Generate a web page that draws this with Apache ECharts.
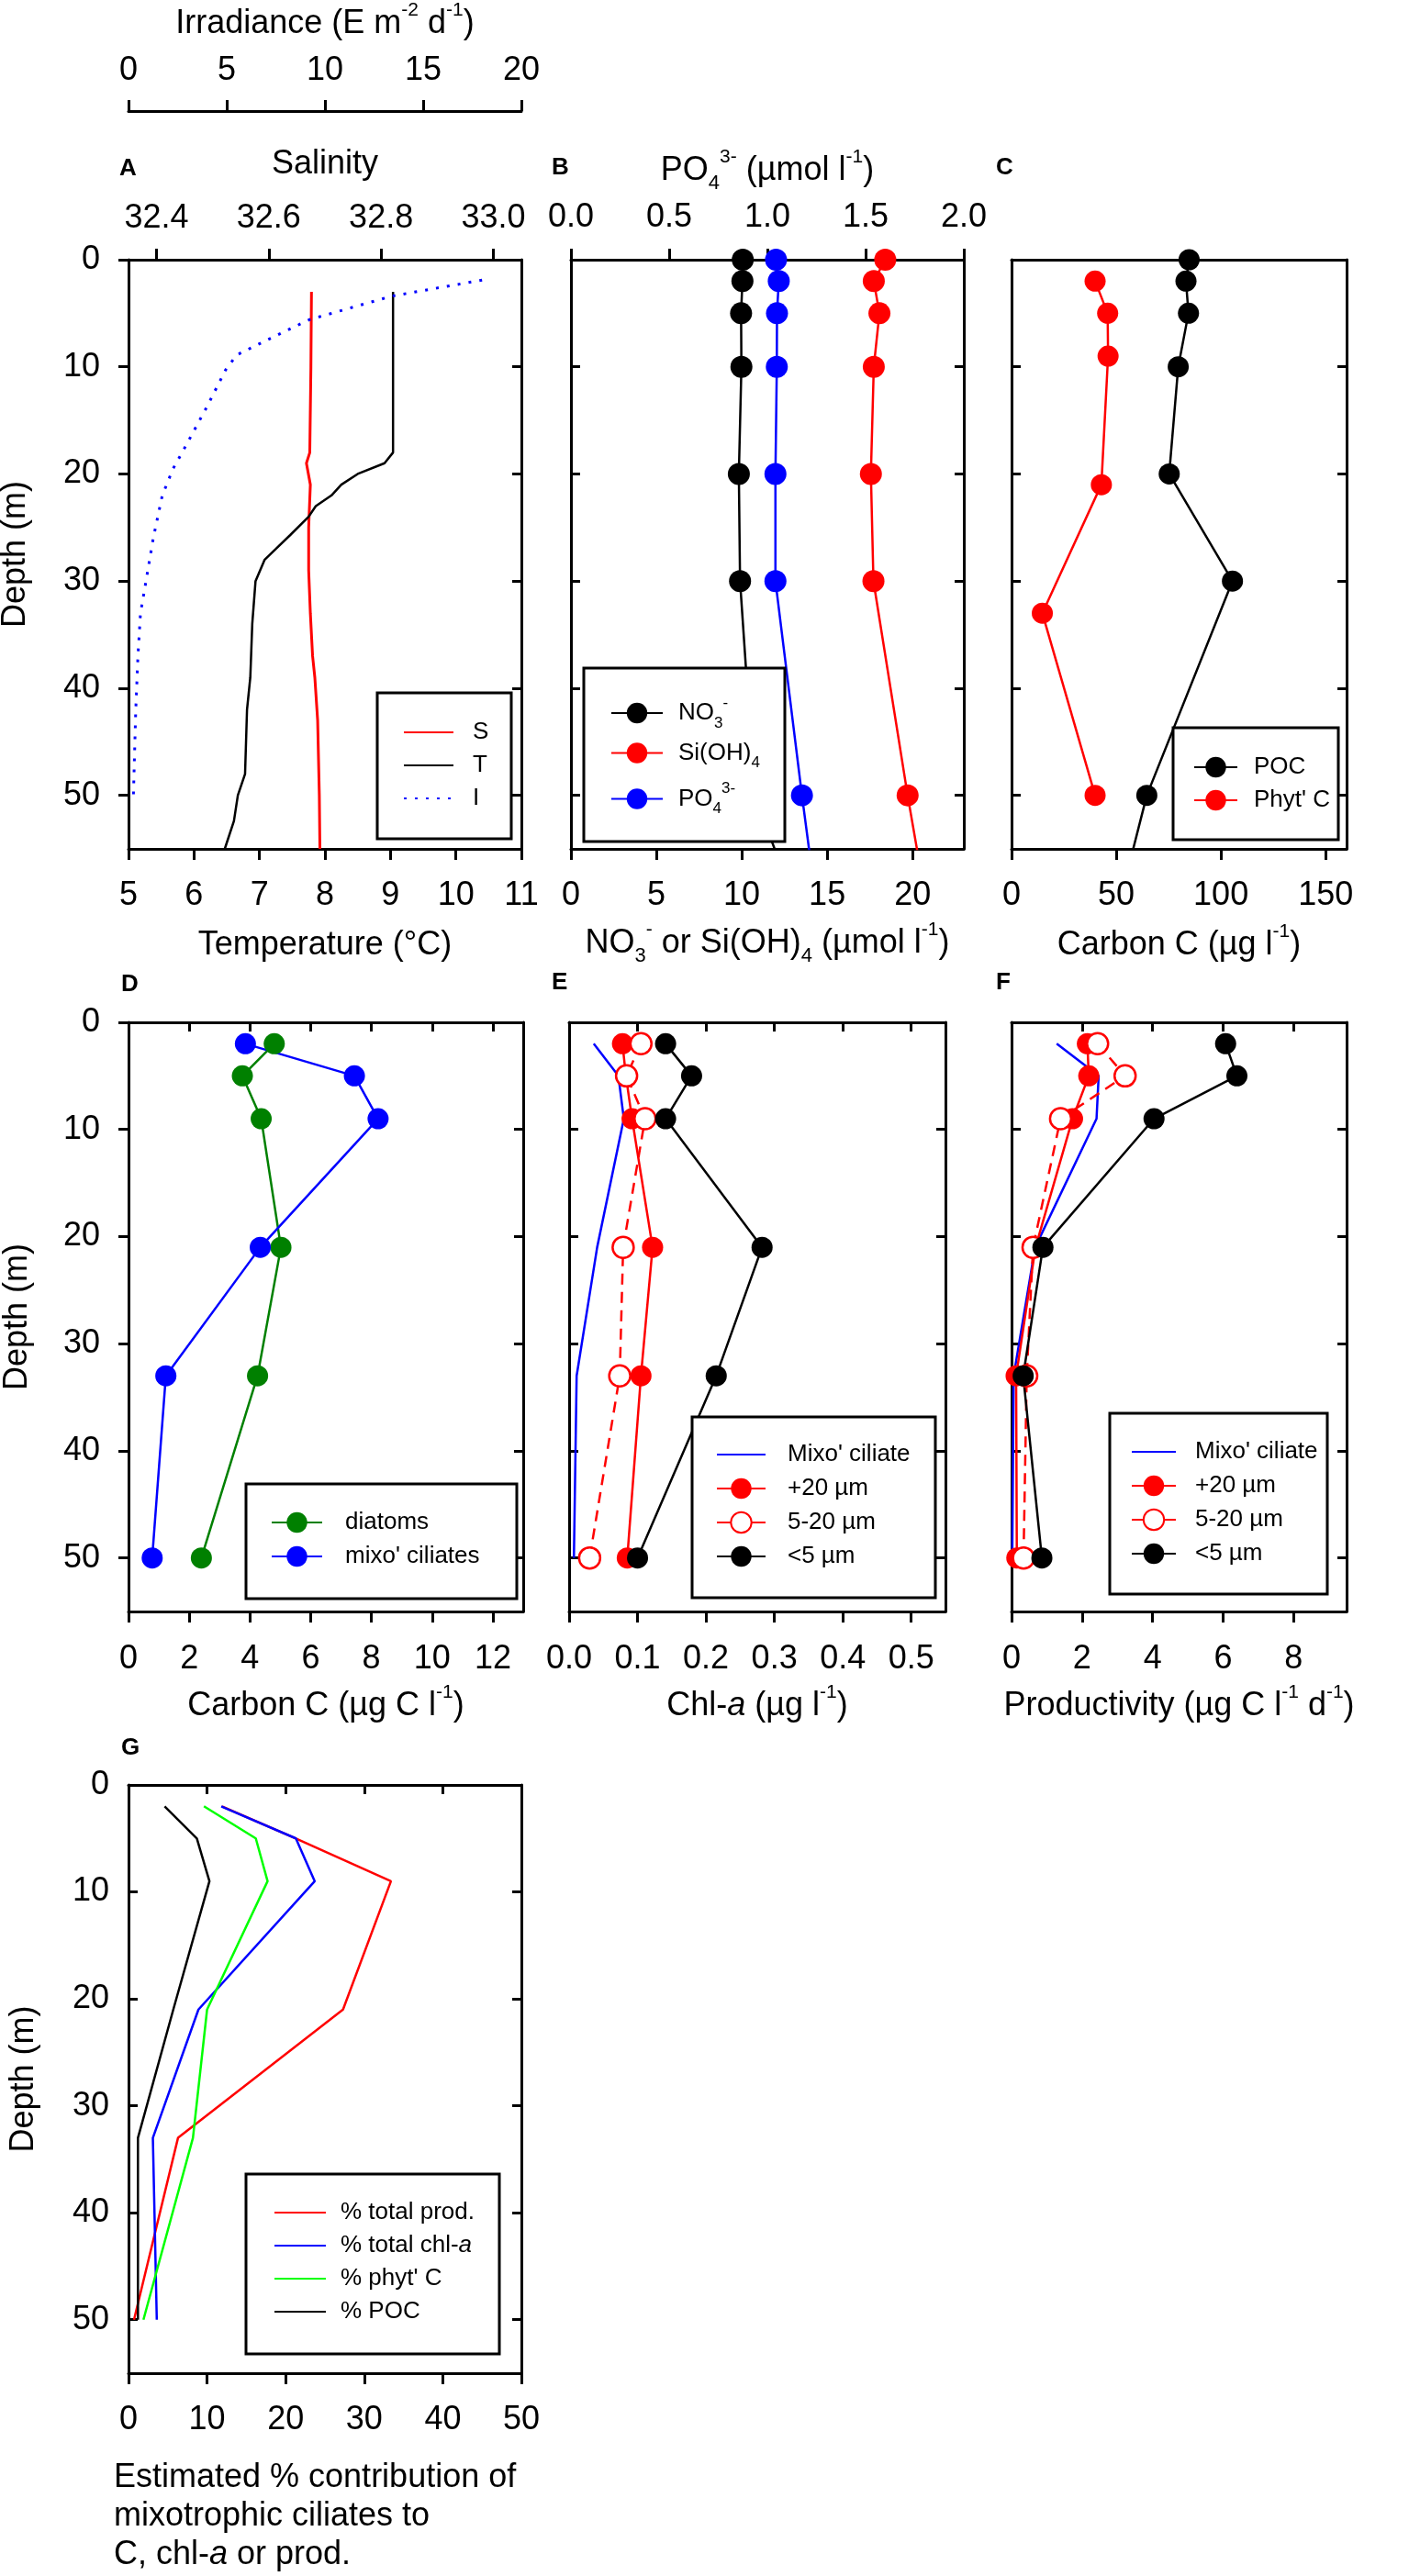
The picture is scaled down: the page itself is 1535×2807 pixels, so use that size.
<!DOCTYPE html>
<html>
<head>
<meta charset="utf-8">
<script src="https://cdn.jsdelivr.net/npm/echarts@6/dist/echarts.min.js"></script>
<style>
html, body { margin: 0; background: #fff; }
#main { width: 1535px; height: 2807px; }
</style>
</head>
<body>
<div id="main"></div>
<script>
// A: CTD cast (depth in m)
const tDepth = [3, 18, 19, 20, 21, 22, 23, 24, 25.7, 27, 28, 30, 34, 39, 42, 48, 50, 52.4, 55];
const tempT = [9.04, 9.04, 8.91, 8.5, 8.25, 8.1, 7.86, 7.75, 7.47, 7.25, 7.08, 6.94, 6.89, 6.86, 6.81, 6.78, 6.67, 6.61, 6.47];
const sDepth = [3, 10, 18, 19, 21, 25, 29, 33, 37, 39, 43, 50, 55];
const salS = [32.676, 32.675, 32.673, 32.667, 32.674, 32.671, 32.671, 32.674, 32.678, 32.682, 32.687, 32.69, 32.691];
const iDepth = [1.9, 3.4, 5.6, 7.1, 8.9, 10.3, 13.7, 15.5, 18, 19.5, 22, 26, 30, 33, 37, 42, 50];
const irrI = [18.0, 13.4, 9.2, 7.5, 5.5, 4.94, 4.0, 3.47, 2.73, 2.27, 1.72, 1.26, 0.89, 0.61, 0.48, 0.37, 0.25];

// B: nutrients
const nutDepth = [0, 2, 5, 10, 20, 30, 50, 60];
const no3 = [10.06, 10.04, 9.96, 9.98, 9.83, 9.9, 10.75, 13.1];
const siOH4 = [18.4, 17.73, 18.06, 17.73, 17.56, 17.71, 19.71, 20.8];
const po4 = [1.044, 1.058, 1.049, 1.048, 1.041, 1.041, 1.176, 1.248];

// C: carbon
const pocDepth = [0, 2, 5, 10, 20, 30, 50, 60];
const poc = [84.8, 83.3, 84.5, 79.6, 75.3, 105.5, 64.6, 51.6];
const sampDepth = [2, 5, 9, 21, 33, 50];
const phytC = [39.9, 45.9, 46.1, 42.9, 14.7, 39.9];

// D: diatoms vs mixotrophic ciliates
const diatoms = [4.8, 3.75, 4.37, 5.02, 4.25, 2.4];
const mixoC = [3.85, 7.44, 8.22, 4.34, 1.23, 0.78];

// E: chl-a
const chlMixo = [0.036, 0.072, 0.08, 0.041, 0.011, 0.007];
const chlPlus20 = [0.078, 0.083, 0.092, 0.122, 0.105, 0.085];
const chl5to20 = [0.105, 0.084, 0.111, 0.079, 0.074, 0.03];
const chlLt5 = [0.141, 0.179, 0.141, 0.282, 0.215, 0.1];

// F: productivity
const prodMixo = [1.28, 2.47, 2.41, 0.67, 0.06, 0.02];
const prodPlus20 = [2.15, 2.19, 1.73, 0.68, 0.13, 0.15];
const prod5to20 = [2.44, 3.22, 1.39, 0.61, 0.43, 0.34];
const prodLt5 = [6.07, 6.39, 4.04, 0.89, 0.33, 0.86];

// G: % contribution of mixotrophic ciliates
const pctProd = [11.9, 21.3, 33.4, 27.3, 6.3, 0.7];
const pctChl = [11.8, 21.3, 23.7, 8.9, 3.1, 3.6];
const pctPhyt = [9.6, 16.2, 17.7, 10.0, 8.2, 1.9];
const pctPoc = [4.6, 8.7, 10.3, 5.7, 1.2, 1.2];

// tick values
const depthTicks = [0, 10, 20, 30, 40, 50];
const tempTicks = [5, 6, 7, 8, 9, 10, 11];
const salTicks = [32.4, 32.6, 32.8, 33.0];
const irrTicks = [0, 5, 10, 15, 20];
const nutTicks = [0, 5, 10, 15, 20];
const po4Ticks = [0, 0.5, 1, 1.5, 2];
const carbonTicks = [0, 50, 100, 150];
const dTicks = [0, 2, 4, 6, 8, 10, 12];
const chlTicks = [0, 0.1, 0.2, 0.3, 0.4, 0.5];
const prodTicks = [0, 2, 4, 6, 8];
const pctTicks = [0, 10, 20, 30, 40, 50];

const FONT = 'Arial, "Liberation Sans", sans-serif';
const RED = '#ff0000', BLUE = '#0000ff', BLACK = '#000000';

const RICH = {
    n: { fontSize: 36, fontFamily: FONT, color: '#000', lineHeight: 50 },
    i: { fontSize: 36, fontFamily: FONT, fontStyle: 'italic', color: '#000', lineHeight: 50 },
    sup: { fontSize: 21, fontFamily: FONT, color: '#000', lineHeight: 36, verticalAlign: 'top' },
    sub: { fontSize: 22, fontFamily: FONT, color: '#000', lineHeight: 22, verticalAlign: 'bottom' }
};
const LRICH = {
    ln: { fontSize: 26, fontFamily: FONT, color: '#000', lineHeight: 39 },
    li: { fontSize: 26, fontFamily: FONT, fontStyle: 'italic', color: '#000', lineHeight: 28 },
    lsup: { fontSize: 17, fontFamily: FONT, color: '#000', lineHeight: 25, verticalAlign: 'top' },
    lsub: { fontSize: 17, fontFamily: FONT, color: '#000', lineHeight: 17, verticalAlign: 'bottom' }
};

const grids = [
    { left: 140, top: 283, width: 428, height: 642 },   // A
    { left: 622, top: 283, width: 428, height: 642 },   // B
    { left: 1102, top: 283, width: 365, height: 642 },  // C
    { left: 140, top: 1114, width: 430, height: 642 },  // D
    { left: 620, top: 1114, width: 410, height: 642 },  // E
    { left: 1102, top: 1114, width: 365, height: 642 }, // F
    { left: 140, top: 1945, width: 428, height: 641 }   // G
].map(g => Object.assign({ outerBoundsMode: 'none', containLabel: false }, g));

function xAx(gi, pos, min, max, ticks, o) {
    o = o || {};
    return {
        type: 'value', gridIndex: gi, position: pos, min: min, max: max, offset: o.offset || 0,
        splitLine: { show: false },
        axisLine: { show: true, onZero: false, lineStyle: { color: '#000', width: 3 } },
        axisTick: {
            show: !!ticks, inside: !!o.inside, length: o.inside ? 10 : 12,
            lineStyle: { color: '#000', width: 3 }, customValues: ticks || undefined
        },
        axisLabel: {
            show: !!o.labels, customValues: ticks || undefined, margin: o.margin || 8,
            fontSize: 36, lineHeight: 36, fontFamily: FONT, color: '#000', formatter: o.fmt
        },
        name: o.name || '', nameLocation: 'middle', nameGap: o.nameGap || 0,
        nameMoveOverlap: false, nameTextStyle: { rich: RICH }
    };
}

function yAx(gi, pos, o) {
    o = o || {};
    return {
        type: 'value', gridIndex: gi, position: pos, inverse: true, min: 0, max: 55,
        splitLine: { show: false },
        axisLine: { show: true, onZero: false, lineStyle: { color: '#000', width: 3 } },
        axisTick: {
            show: true, inside: !!o.inside, length: o.inside ? 10 : 11,
            lineStyle: { color: '#000', width: 3 }, customValues: depthTicks
        },
        axisLabel: {
            show: !!o.labels, customValues: depthTicks, margin: o.margin || 8,
            fontSize: 36, lineHeight: 36, fontFamily: FONT, color: '#000'
        },
        name: o.labels ? '{n|Depth (m)}' : '', nameLocation: 'middle', nameRotate: 90,
        nameGap: o.nameGap || 0, nameMoveOverlap: false, nameTextStyle: { rich: RICH }
    };
}

const fix1 = v => v.toFixed(1);

const xAxes = [
    // 0-2 A
    xAx(0, 'bottom', 5, 11, tempTicks, { labels: true, margin: 33, name: '{n|Temperature (°C)}', nameGap: 80 }),
    xAx(0, 'top', 32.35, 33.05, salTicks, { labels: true, margin: 27, fmt: fix1, name: '{n|Salinity}', nameGap: 79 }),
    xAx(0, 'top', 0, 20, irrTicks, { labels: true, margin: 26, offset: 162,
        name: '{n|Irradiance (E m}{sup|-2}{n| d}{sup|-1}{n|)}', nameGap: 70 }),
    // 3-4 B
    xAx(1, 'bottom', 0, 23, nutTicks, { labels: true, margin: 33,
        name: '{n|NO}{sub|3}{sup|-}{n| or Si(OH)}{sub|4}{n| (µmol l}{sup|-1}{n|)}', nameGap: 78 }),
    xAx(1, 'top', 0, 2, po4Ticks, { labels: true, margin: 28, fmt: fix1,
        name: '{n|PO}{sub|4}{sup|3-}{n| (µmol l}{sup|-1}{n|)}', nameGap: 72 }),
    // 5-6 C
    xAx(2, 'bottom', 0, 160, carbonTicks, { labels: true, margin: 33,
        name: '{n|Carbon C (µg l}{sup|-1}{n|)}', nameGap: 80 }),
    xAx(2, 'top', 0, 160, null, {}),
    // 7-8 D
    xAx(3, 'bottom', 0, 13, dTicks, { labels: true, margin: 34,
        name: '{n|Carbon C (µg C l}{sup|-1}{n|)}', nameGap: 78 }),
    xAx(3, 'top', 0, 13, dTicks, { inside: true }),
    // 9-10 E
    xAx(4, 'bottom', 0, 0.55, chlTicks, { labels: true, margin: 34, fmt: fix1,
        name: '{n|Chl-}{i|a}{n| (µg l}{sup|-1}{n|)}', nameGap: 78 }),
    xAx(4, 'top', 0, 0.55, chlTicks, { inside: true }),
    // 11-12 F
    xAx(5, 'bottom', 0, 9.5, prodTicks, { labels: true, margin: 34,
        name: '{n|Productivity (µg C l}{sup|-1}{n| d}{sup|-1}{n|)}', nameGap: 78 }),
    xAx(5, 'top', 0, 9.5, prodTicks, { inside: true }),
    // 13-14 G
    xAx(6, 'bottom', 0, 50, pctTicks, { labels: true, margin: 33 }),
    xAx(6, 'top', 0, 50, pctTicks, { inside: true })
];

const yAxes = [
    yAx(0, 'left', { labels: true, margin: 31, nameGap: 98 }), yAx(0, 'right', { inside: true }),
    yAx(1, 'left', { inside: true }), yAx(1, 'right', { inside: true }),
    yAx(2, 'left', { inside: true }), yAx(2, 'right', { inside: true }),
    yAx(3, 'left', { labels: true, margin: 31, nameGap: 96 }), yAx(3, 'right', { inside: true }),
    yAx(4, 'left', { inside: true }), yAx(4, 'right', { inside: true }),
    yAx(5, 'left', { inside: true }), yAx(5, 'right', { inside: true }),
    yAx(6, 'left', { labels: true, inside: true, margin: 21, nameGap: 89 }), yAx(6, 'right', { inside: true })
];

const series = [];
function addLine(name, xi, yi, xs, ds, color, o) {
    o = o || {};
    const marked = !!o.symbol;
    series.push({
        type: 'line', name: name, xAxisIndex: xi, yAxisIndex: yi,
        data: xs.map((v, k) => [v, ds[k]]),
        symbol: o.symbol || 'none', symbolSize: o.size || 23,
        // plain lines get an invisible legend marker
        itemStyle: marked
            ? { color: o.fill || color, borderColor: color, borderWidth: o.bw || 0 }
            : { color: 'rgba(0,0,0,0)', borderWidth: 0 },
        lineStyle: { color: color, width: o.width || 2.5, type: o.dash || 'solid' },
        clip: true, animation: false
    });
}
const dot = { symbol: 'circle' };
const open = { symbol: 'circle', fill: '#fff', bw: 2.5, dash: [12, 8] };

// A
addLine('S', 1, 0, salS, sDepth, RED, { width: 3 });
addLine('T', 0, 0, tempT, tDepth, BLACK);
addLine('I', 2, 0, irrI, iDepth, BLUE, { width: 3, dash: [3, 9] });
// B
addLine('NO3', 3, 2, no3, nutDepth, BLACK, Object.assign({ size: 24 }, dot));
addLine('SiOH4', 3, 2, siOH4, nutDepth, RED, Object.assign({ size: 24 }, dot));
addLine('PO4', 4, 2, po4, nutDepth, BLUE, Object.assign({ size: 24 }, dot));
// C
addLine('POC', 5, 4, poc, pocDepth, BLACK, dot);
addLine("Phyt' C", 5, 4, phytC, sampDepth, RED, dot);
// D
addLine('diatoms', 7, 6, diatoms, sampDepth, '#008000', dot);
addLine("mixo' ciliates", 7, 6, mixoC, sampDepth, BLUE, dot);
// E
addLine("Mixo' ciliate", 9, 8, chlMixo, sampDepth, BLUE);
addLine('+20 µm', 9, 8, chlPlus20, sampDepth, RED, dot);
addLine('5-20 µm', 9, 8, chl5to20, sampDepth, RED, open);
addLine('<5 µm', 9, 8, chlLt5, sampDepth, BLACK, dot);
// F
addLine("Mixo' ciliate", 11, 10, prodMixo, sampDepth, BLUE);
addLine('+20 µm', 11, 10, prodPlus20, sampDepth, RED, dot);
addLine('5-20 µm', 11, 10, prod5to20, sampDepth, RED, open);
addLine('<5 µm', 11, 10, prodLt5, sampDepth, BLACK, dot);
// G
addLine('% total prod.', 13, 12, pctProd, sampDepth, RED);
addLine('% total chl-a', 13, 12, pctChl, sampDepth, BLUE);
addLine("% phyt' C", 13, 12, pctPhyt, sampDepth, '#00ff00');
addLine('% POC', 13, 12, pctPoc, sampDepth, BLACK);

const legendNames = {
    NO3: '{ln|NO}{lsub|3}{lsup|-}',
    SiOH4: '{ln|Si(OH)}{lsub|4}',
    PO4: '{ln|PO}{lsub|4}{lsup|3-}',
    '% total chl-a': '{ln|% total chl-}{li|a}'
};
function legend(names, left, top, o) {
    return {
        orient: 'vertical', left: left, top: top, padding: 0,
        itemWidth: o.w, itemHeight: o.h || 28, itemGap: o.gap,
        selectedMode: false, z: 10,
        data: names.map(n => n === '5-20 µm' ? { name: n, lineStyle: { type: 'solid' } } : n),
        formatter: n => '{sp|}' + (legendNames[n] || ('{ln|' + n + '}')),
        textStyle: {
            fontSize: 26, fontFamily: FONT, color: '#000',
            rich: Object.assign({}, LRICH, {
                ln: Object.assign({}, LRICH.ln, { lineHeight: o.lh || 28 }),
                sp: { width: o.pad, lineHeight: 10 }
            })
        }
    };
}

const legends = [
    legend(['S', 'T', 'I'], 439, 785, { w: 54, h: 26, gap: 10, pad: 16, lh: 26 }),
    legend(['NO3', 'SiOH4', 'PO4'], 665, 757.5, { w: 56, h: 28, gap: 11, pad: 12, lh: 39 }),
    legend(['POC', "Phyt' C"], 1300, 823, { w: 47, gap: 10, pad: 13 }),
    legend(['diatoms', "mixo' ciliates"], 295, 1646, { w: 55, gap: 11, pad: 20 }),
    legend(["Mixo' ciliate", '+20 µm', '5-20 µm', '<5 µm'], 780, 1572, { w: 53, gap: 11, pad: 19 }),
    legend(["Mixo' ciliate", '+20 µm', '5-20 µm', '<5 µm'], 1232, 1569, { w: 48, gap: 11, pad: 16 }),
    legend(['% total prod.', '% total chl-a', "% phyt' C", '% POC'], 298, 2398, { w: 56, gap: 10, pad: 11 })
];

const boxes = [
    [411, 755, 146, 159], [636, 728, 219, 189], [1278, 793, 180, 122],
    [268, 1617, 295, 125], [754, 1544, 265, 197], [1209, 1540, 237, 197], [268, 2369, 276, 196]
];
const letters = [['A', 130, 171], ['B', 601, 170], ['C', 1085, 170], ['D', 132, 1060],
    ['E', 601, 1058], ['F', 1085, 1058], ['G', 132, 1892]];

const graphic = [];
boxes.forEach(b => graphic.push({
    type: 'rect', z: 9, shape: { x: b[0], y: b[1], width: b[2], height: b[3] },
    style: { fill: '#fff', stroke: '#000', lineWidth: 3 }
}));
letters.forEach(l => graphic.push({
    type: 'text', left: l[1], top: l[2], z: 9,
    style: { text: l[0], font: 'bold 26px ' + FONT, fill: '#000' }
}));
graphic.push({
    type: 'text', left: 124, top: 2682, z: 9,
    style: {
        text: '{g|Estimated % contribution of}\n{g|mixotrophic ciliates to}\n{g|C, chl-}{gi|a}{g| or prod.}',
        rich: {
            g: { fontSize: 36, fontFamily: FONT, lineHeight: 42, fill: '#000' },
            gi: { fontSize: 36, fontFamily: FONT, fontStyle: 'italic', lineHeight: 42, fill: '#000' }
        }
    }
});

const myChart = echarts.init(document.getElementById('main'), null, { renderer: 'canvas' });
myChart.setOption({
    animation: false,
    backgroundColor: '#fff',
    textStyle: { fontFamily: FONT },
    grid: grids,
    xAxis: xAxes,
    yAxis: yAxes,
    legend: legends,
    graphic: graphic,
    series: series
});
</script>
</body>
</html>
